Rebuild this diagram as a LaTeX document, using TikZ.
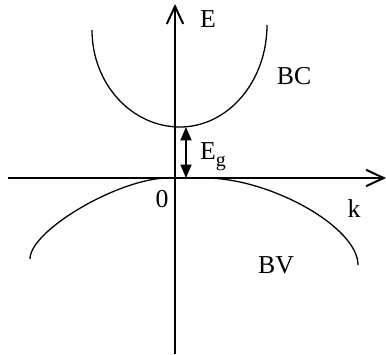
\documentclass[tikz,border=0pt]{standalone}
\usepackage{fontspec}
\setmainfont{Liberation Serif}
\usepackage{tikz}
\usetikzlibrary{arrows.meta}
\tikzset{
	axis/.style    ={line width=2pt, -{Straight Barb[length=15pt, width=14pt, line width=1.7pt]}},
	band/.style    ={line width=1.1pt},
	gaparrow/.style={line width=1.2pt, {Triangle[length=11.5pt, width=9.5pt]}-{Triangle[length=11.5pt, width=9.5pt]}},
	lbl/.style     ={inner sep=0pt, anchor=base},
}

\begin{document}
\begin{tikzpicture}[x=0.03cm, y=0.03cm, every node/.style={font=\fontsize{22}{26}\selectfont}]
	\useasboundingbox (0,0) rectangle (386,354);
	\coordinate (xleft) at (8,176); \coordinate (xright) at (386,176);
	\coordinate (ybot) at (175,0); \coordinate (ytop) at (175,350);
	\coordinate (gapbot) at (186,176); \coordinate (gaptop) at (186,227);
	\draw[axis] (xleft) -- (xright);
	\draw[axis] (ybot) -- (ytop);
	\draw[band] (92,324) arc[start angle=180, end angle=270, x radius=88, y radius=97]
		arc[start angle=270, end angle=360, x radius=87, y radius=102];
	\draw[band] (30,95) .. controls (30,124) and (120,176) .. (168,176) -- (205,176)
		.. controls (270,176) and (358,127) .. (358,89);
	\draw[gaparrow] (gapbot) -- (gaptop);
	\node[lbl] (lE) at (208,326) {E};
	\node[lbl] (lBC) at (294,270) {BC};
	\node[lbl, anchor=base west] (lEg) at (200,195) {E\raisebox{-6pt}{\fontsize{17}{19}\selectfont g}};
	\node[lbl] (lzero) at (162,147) {0};
	\node[lbl] (lk) at (354,137) {k};
	\node[lbl] (lBV) at (276,81) {BV};
\end{tikzpicture}
\end{document}
